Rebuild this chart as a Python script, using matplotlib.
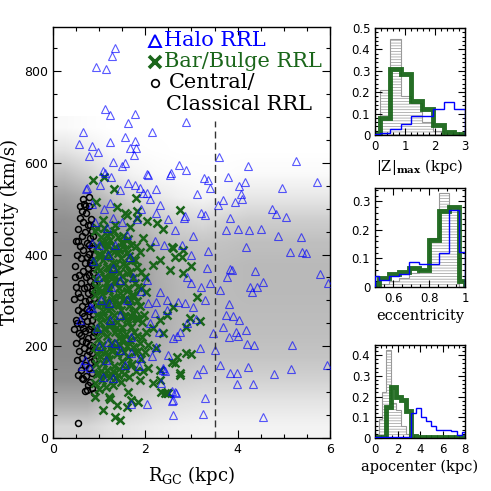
import numpy as np
import matplotlib
matplotlib.use('Agg')
import matplotlib.pyplot as plt
from matplotlib.ticker import MultipleLocator, FuncFormatter

plt.rcParams['font.family'] = 'DejaVu Sans'
plt.rcParams['mathtext.fontset'] = 'dejavuserif'
plt.rcParams['hatch.linewidth'] = 0.5

SERIF = 'DejaVu Serif'
GREEN = '#1a661a'

# ---- main panel: RRL samples (R_GC [kpc], total velocity [km/s]) ----
halo_pts = np.array([
    (1.34, 850), (1.27, 832), (0.93, 808), (1.15, 805), (1.13, 717), (1.24, 704), (1.77, 706),
    (1.62, 686), (2.89, 689), (0.64, 667), (2.15, 667), (1.55, 656), (1.77, 648), (1.23, 646),
    (0.57, 641), (0.84, 637), (1.67, 633), (1.79, 633), (0.98, 624), (0.77, 615), (1.75, 617),
    (3.60, 613), (1.31, 601), (1.56, 600), (1.49, 592), (2.73, 596), (2.88, 585), (4.22, 592),
    (5.27, 603), (1.09, 583), (1.12, 578), (2.03, 575), (2.56, 577), (3.79, 570), (3.27, 567),
    (3.35, 563), (5.71, 558), (4.16, 558), (4.03, 550), (4.96, 545), (3.40, 544), (0.72, 543),
    (1.26, 570), (1.77, 551), (2.24, 542), (1.95, 535), (4.08, 531), (4.10, 521), (3.94, 515),
    (3.69, 519), (3.58, 509), (3.13, 532), (4.74, 499), (5.04, 481), (4.83, 488), (3.83, 479),
    (4.25, 454), (4.51, 455), (4.00, 456), (3.74, 454), (5.37, 438), (4.88, 441), (3.21, 490),
    (3.30, 486), (2.50, 478), (2.84, 479), (3.03, 441), (1.83, 478),
    (5.13, 406), (5.39, 406), (5.49, 404), (4.18, 416), (5.79, 358), (5.96, 337), (4.55, 339),
    (4.41, 329), (4.26, 330), (4.32, 318), (4.37, 365), (3.83, 368), (3.88, 366), (3.76, 352),
    (3.61, 323), (3.82, 291), (3.74, 268), (3.89, 265), (4.03, 258), (4.19, 236), (3.96, 231),
    (3.69, 241), (3.82, 221), (4.00, 223), (4.20, 204), (4.36, 203), (5.18, 203), (3.61, 160),
    (4.23, 154), (5.16, 150), (5.94, 160), (3.83, 141), (3.98, 141), (4.78, 140), (3.99, 117),
    (4.34, 118), (4.55, 46), (3.29, 87), (3.26, 53), (2.60, 50), (2.66, 98), (2.58, 81),
    (2.03, 75), (3.12, 139), (3.26, 151), (3.51, 192), (3.47, 228), (3.18, 196), (2.39, 153),
    (2.42, 146), (2.35, 119), (2.58, 102), (0.62, 156), (3.04, 286), (3.00, 337), (3.33, 370),
    (3.40, 337), (3.35, 408), (2.86, 294), (2.75, 232), (2.69, 223), (2.24, 199), (2.15, 179),
    (1.87, 156), (1.70, 185),
    (0.73, 545), (1.02, 552), (1.23, 512), (1.45, 541), (1.63, 555), (1.88, 545), (2.03, 534),
    (2.06, 574), (2.32, 508), (2.24, 490), (2.53, 574), (2.64, 454), (2.86, 483), (0.84, 425),
    (0.87, 385), (0.98, 352), (1.20, 399), (1.31, 370), (1.67, 395), (1.45, 345), (1.74, 352),
    (2.03, 345), (2.32, 319), (2.46, 301), (2.24, 297), (2.71, 297), (1.05, 301), (0.80, 286),
    (1.60, 443), (1.34, 421), (1.16, 457), (0.84, 283), (1.22, 294), (1.45, 268), (0.58, 257),
    (1.23, 257), (1.20, 210), (1.34, 206), (1.45, 192), (1.70, 221), (1.88, 174), (1.09, 134),
    (1.31, 130), (0.80, 152), (0.69, 170), (2.06, 294), (2.46, 279), (2.21, 272), (2.60, 217),
    (2.39, 148), (2.64, 101), (2.60, 83), (1.70, 75),
    (1.10, 500), (1.30, 480), (1.50, 470), (1.90, 500), (2.10, 520), (2.20, 430), (2.40, 420),
    (2.80, 420), (3.00, 400), (2.90, 350), (3.20, 330), (3.30, 300), (3.10, 260), (2.90, 250),
    (0.95, 240), (1.00, 200), (1.15, 170), (1.55, 160), (1.60, 300), (1.90, 320), (2.10, 250),
    (2.30, 230), (2.50, 180), (1.00, 420), (1.25, 330), (0.90, 470), (0.85, 510),
])

bulge_pts = np.array([
    (0.87, 563), (1.11, 569), (1.32, 543), (1.80, 523), (0.93, 515), (2.75, 496), (1.82, 494),
    (1.60, 486), (1.39, 504), (2.04, 472), (2.26, 468), (2.39, 455), (2.60, 414), (2.82, 410),
    (2.64, 394), (2.32, 388), (2.53, 366), (2.17, 377), (1.95, 436), (1.88, 406), (2.10, 417),
    (1.77, 388), (1.60, 403), (1.49, 425), (1.23, 446), (1.09, 475), (0.95, 457), (1.34, 465),
    (1.67, 461), (1.56, 490), (1.81, 479),
    (0.91, 90), (1.09, 61), (1.22, 90), (1.24, 86), (1.34, 46), (1.45, 39), (1.63, 101),
    (1.70, 83), (1.85, 79), (1.60, 68), (1.38, 72), (1.88, 126), (1.95, 145), (2.06, 152),
    (2.32, 148), (2.35, 101), (2.46, 97), (2.64, 163), (2.68, 177), (2.89, 185), (2.39, 228),
    (2.06, 203), (2.24, 196), (2.32, 257), (2.46, 268), (2.60, 286), (2.17, 239),
    (2.57, 416), (2.81, 359), (3.00, 374), (3.11, 307), (2.89, 243), (2.97, 261), (3.18, 254),
    (2.98, 183), (2.75, 141), (2.76, 137), (2.50, 97), (2.42, 99), (2.17, 119), (2.32, 126),
    (2.57, 166), (2.79, 395),
    (0.92, 120), (0.94, 162), (0.91, 198), (0.93, 238), (0.95, 268), (0.91, 312), (0.94, 347),
    (0.92, 383), (0.95, 418), (0.90, 452),
    (1.00, 106), (0.99, 142), (1.02, 178), (0.98, 216), (1.01, 252), (1.03, 292), (0.99, 328),
    (1.02, 367), (1.00, 402), (1.03, 438),
    (1.07, 126), (1.09, 163), (1.06, 202), (1.10, 238), (1.08, 277), (1.06, 313), (1.10, 352),
    (1.08, 388), (1.07, 427), (1.10, 458),
    (1.15, 112), (1.17, 148), (1.14, 187), (1.18, 222), (1.16, 262), (1.14, 298), (1.18, 337),
    (1.16, 373), (1.15, 412), (1.18, 443),
    (1.24, 132), (1.22, 172), (1.26, 208), (1.23, 247), (1.25, 283), (1.22, 322), (1.26, 358),
    (1.24, 397), (1.23, 432),
    (1.31, 116), (1.33, 157), (1.30, 193), (1.34, 232), (1.32, 268), (1.30, 307), (1.33, 343),
    (1.31, 382), (1.34, 417), (1.32, 452),
    (1.40, 138), (1.38, 182), (1.42, 217), (1.39, 253), (1.41, 292), (1.43, 328), (1.38, 367),
    (1.41, 403), (1.40, 438),
    (1.47, 123), (1.49, 167), (1.46, 203), (1.50, 242), (1.48, 278), (1.46, 317), (1.50, 353),
    (1.47, 392), (1.49, 427),
    (1.56, 152), (1.54, 188), (1.58, 227), (1.55, 263), (1.57, 302), (1.54, 338), (1.58, 377),
    (1.56, 412),
    (1.64, 133), (1.62, 177), (1.66, 213), (1.63, 252), (1.65, 288), (1.62, 327), (1.66, 362),
    (1.64, 397), (1.63, 433),
    (1.72, 162), (1.74, 198), (1.70, 242), (1.73, 273), (1.71, 312), (1.74, 348), (1.72, 387),
    (1.80, 147), (1.78, 187), (1.82, 223), (1.79, 262), (1.81, 298), (1.78, 337), (1.82, 372),
    (1.80, 418),
    (1.90, 172), (1.88, 208), (1.92, 252), (1.89, 288), (1.91, 328), (1.90, 362),
    (2.00, 188), (2.02, 232), (1.98, 268), (2.01, 318), (2.00, 352),
    (0.96, 182), (1.04, 320), (1.12, 395), (1.20, 280), (1.28, 190), (1.36, 300), (1.44, 360),
    (1.52, 215), (1.60, 320), (1.12, 240), (1.28, 410), (1.36, 130), (0.97, 400), (1.52, 440),
    (0.96, 290), (1.04, 145), (1.04, 230), (1.12, 290), (1.12, 140), (1.20, 330), (1.20, 180),
    (1.28, 250), (1.28, 300), (1.36, 380), (1.36, 200), (1.44, 150), (1.44, 290), (1.52, 300),
    (1.52, 380), (1.60, 260), (1.60, 200), (1.68, 300), (1.68, 420), (1.76, 230), (1.76, 310),
    (1.84, 260), (1.84, 190), (0.96, 370), (1.04, 400), (1.20, 420), (1.44, 410), (1.12, 430),
    (0.95, 140), (1.05, 265), (1.13, 350), (1.21, 245), (1.29, 145), (1.37, 240), (1.45, 230),
    (1.53, 265), (1.61, 360), (1.69, 265), (1.77, 280), (1.85, 330), (1.93, 220), (1.05, 190),
    (1.21, 370), (1.37, 340), (1.53, 140), (1.69, 160), (0.93, 330), (1.29, 355),
])

central_pts = np.array([
    (0.79, 526), (0.68, 510), (0.78, 505), (0.62, 495), (0.72, 490), (0.58, 480), (0.82, 478),
    (0.66, 470), (0.75, 465), (0.55, 455), (0.85, 452), (0.70, 448), (0.62, 440), (0.80, 435),
    (0.50, 430), (0.73, 425), (0.58, 418), (0.84, 415), (0.66, 410), (0.77, 402), (0.52, 398),
    (0.60, 392), (0.82, 388), (0.70, 382), (0.48, 375), (0.76, 370), (0.64, 365), (0.86, 360),
    (0.56, 355), (0.72, 350), (0.81, 342), (0.60, 338), (0.50, 330), (0.68, 326), (0.84, 320),
    (0.76, 315), (0.58, 308), (0.45, 302), (0.70, 298), (0.83, 292), (0.63, 288), (0.54, 280),
    (0.78, 276), (0.87, 270), (0.67, 265), (0.50, 258), (0.74, 254), (0.60, 248), (0.82, 244),
    (0.45, 238), (0.70, 234), (0.56, 228), (0.86, 222), (0.76, 218), (0.63, 212), (0.50, 206),
    (0.80, 202), (0.68, 196), (0.57, 190), (0.84, 186), (0.74, 180), (0.62, 175), (0.52, 170),
    (0.82, 165), (0.70, 160), (0.78, 152), (0.60, 148), (0.85, 142), (0.72, 135), (0.66, 128),
    (0.80, 122), (0.75, 115), (0.84, 108), (0.70, 102), (0.88, 98), (0.55, 32),
    (0.80, 465), (0.86, 440), (0.78, 420), (0.88, 398), (0.74, 395), (0.85, 378), (0.79, 356),
    (0.88, 336), (0.74, 330), (0.79, 300), (0.88, 305), (0.73, 282), (0.84, 258), (0.78, 238),
    (0.88, 230), (0.72, 210), (0.87, 198), (0.78, 190), (0.88, 170), (0.60, 225), (0.55, 315),
    (0.62, 272), (0.54, 430), (0.64, 520), (0.70, 505), (0.58, 505), (0.48, 350), (0.52, 250),
    (0.66, 240), (0.80, 382), (0.62, 130), (0.55, 137), (0.73, 105),
])

# background model cloud: relative density on a coarse grid
# rows: V bins 0-50 ... 650-700, columns: R bins 0-0.5 ... 5.5-6
cloud_density = np.array([
    [0.35, 0.35, 0.25, 0.20, 0.15, 0.12, 0.10, 0.10, 0.10, 0.10, 0.10, 0.10],
    [0.70, 0.70, 0.50, 0.40, 0.30, 0.25, 0.22, 0.22, 0.22, 0.22, 0.22, 0.22],
    [0.95, 0.95, 0.85, 0.60, 0.50, 0.42, 0.38, 0.38, 0.38, 0.38, 0.38, 0.38],
    [1.00, 1.00, 0.95, 0.80, 0.62, 0.55, 0.50, 0.50, 0.50, 0.50, 0.50, 0.50],
    [1.00, 1.00, 1.00, 0.88, 0.70, 0.60, 0.55, 0.55, 0.55, 0.55, 0.55, 0.55],
    [1.00, 1.00, 1.00, 0.90, 0.72, 0.62, 0.58, 0.58, 0.58, 0.58, 0.58, 0.58],
    [1.00, 1.00, 1.00, 0.90, 0.72, 0.62, 0.58, 0.58, 0.60, 0.60, 0.60, 0.60],
    [1.00, 1.00, 1.00, 0.88, 0.70, 0.60, 0.56, 0.58, 0.60, 0.60, 0.60, 0.60],
    [1.00, 1.00, 0.95, 0.80, 0.62, 0.52, 0.50, 0.52, 0.55, 0.55, 0.55, 0.55],
    [0.95, 0.90, 0.80, 0.60, 0.45, 0.35, 0.30, 0.38, 0.42, 0.42, 0.42, 0.42],
    [0.80, 0.70, 0.50, 0.30, 0.20, 0.12, 0.08, 0.12, 0.20, 0.20, 0.20, 0.20],
    [0.55, 0.40, 0.20, 0.10, 0.05, 0.03, 0.02, 0.02, 0.04, 0.04, 0.04, 0.04],
    [0.25, 0.15, 0.05, 0.02, 0.01, 0.00, 0.00, 0.00, 0.00, 0.00, 0.00, 0.00],
    [0.05, 0.02, 0.00, 0.00, 0.00, 0.00, 0.00, 0.00, 0.00, 0.00, 0.00, 0.00],
])

# ---- histograms (normalised fractions) ----
zmax_edges = [0, 0.15, 0.5, 0.86, 1.21, 1.57, 1.93, 2.29, 2.64, 3.0]
zmax_central = [0.0, 0.21, 0.45, 0.18, 0.15, 0.06, 0.02, 0.0, 0.0]
zmax_bulge = [0.003, 0.08, 0.31, 0.285, 0.16, 0.12, 0.045, 0.015, 0.003]
zmax_halo = [0.003, 0.01, 0.03, 0.05, 0.09, 0.09, 0.12, 0.155, 0.12]

ecc_edges = [0.5, 0.519, 0.575, 0.631, 0.687, 0.744, 0.80, 0.856, 0.912, 0.968, 1.0]
ecc_central = [0.0, 0.01, 0.02, 0.03, 0.05, 0.06, 0.17, 0.33, 0.27, 0.0]
ecc_bulge = [0.012, 0.03, 0.047, 0.053, 0.068, 0.059, 0.165, 0.265, 0.28, 0.02]
ecc_halo = [0.04, 0.025, 0.04, 0.045, 0.088, 0.082, 0.082, 0.12, 0.27, 0.124]

apo_edges = [0, 0.35, 0.6, 1.0, 1.43, 1.87, 2.3, 2.75, 3.2, 3.65, 4.1, 4.55, 5.0, 5.45,
             5.9, 6.35, 6.8, 7.25, 7.7, 8.0]
apo_central = [0.0, 0.09, 0.22, 0.427, 0.17, 0.136, 0.06, 0.02, 0.0, 0.0,
               0.0, 0.0, 0.0, 0.0, 0.0, 0.0, 0.0, 0.0, 0.0]
apo_bulge = [0.003, 0.003, 0.003, 0.15, 0.245, 0.2, 0.185, 0.128, 0.01, 0.003,
             0.003, 0.003, 0.003, 0.003, 0.003, 0.003, 0.003, 0.003, 0.003]
apo_halo = [0.003, 0.003, 0.003, 0.003, 0.003, 0.003, 0.003, 0.003, 0.12, 0.144,
            0.1, 0.083, 0.058, 0.038, 0.037, 0.037, 0.035, 0.015, 0.03]


def fmt_g(v, pos):
    return '%g' % round(v, 6)


def style_axes(ax, xmaj, xmin, ymaj, ymin, labelsize=8.5):
    ax.xaxis.set_major_locator(MultipleLocator(xmaj))
    ax.xaxis.set_minor_locator(MultipleLocator(xmin))
    ax.yaxis.set_major_locator(MultipleLocator(ymaj))
    ax.yaxis.set_minor_locator(MultipleLocator(ymin))
    ax.xaxis.set_major_formatter(FuncFormatter(fmt_g))
    ax.yaxis.set_major_formatter(FuncFormatter(fmt_g))
    ax.tick_params(which='both', direction='in', top=True, right=True,
                   labelsize=labelsize, width=0.8)
    ax.tick_params(which='major', length=5)
    ax.tick_params(which='minor', length=2.5)
    for s in ax.spines.values():
        s.set_linewidth(1.0)


fig = plt.figure(figsize=(4.91, 4.91), dpi=100)

# main scatter panel
ax = fig.add_axes([0.108, 0.108, 0.564, 0.837])
rgba = np.zeros(cloud_density.shape + (4,))
rgba[..., :3] = 0.52
rgba[..., 3] = cloud_density * 0.95
ax.imshow(rgba, extent=[0, 6, 0, 700], origin='lower', aspect='auto',
          interpolation='bilinear', zorder=0)

ax.plot(central_pts[:, 0], central_pts[:, 1], 'o', mfc='none', mec='black',
        ms=4.3, mew=1.1, zorder=2)
ax.plot(bulge_pts[:, 0], bulge_pts[:, 1], 'x', color=GREEN, ms=6, mew=1.8,
        zorder=3)
ax.plot(halo_pts[:, 0], halo_pts[:, 1], '^', mfc='none', mec='blue', ms=5.5,
        mew=0.8, alpha=0.65, zorder=4)
ax.plot([3.5, 3.5], [0, 690], ls=(0, (5, 3)), color='#333333', lw=1.0, zorder=5)

ax.set_xlim(0, 6)
ax.set_ylim(0, 896)
style_axes(ax, 2, 0.5, 200, 50, labelsize=9)
ax.tick_params(which='major', length=6)
ax.tick_params(which='minor', length=3)
ax.set_xlabel(r'R$_{\mathrm{GC}}$ (kpc)', family=SERIF, fontsize=13, labelpad=6)
ax.set_ylabel('Total Velocity (km/s)', family=SERIF, fontsize=13, labelpad=4)

# legend drawn as text rows
ax.plot(2.2, 866, '^', mfc='none', mec='blue', ms=9, mew=1.4, clip_on=False, zorder=6)
ax.text(2.4, 866, 'Halo RRL', color='blue', family=SERIF, fontsize=15, va='center')
ax.plot(2.2, 820, 'x', color=GREEN, ms=8, mew=2.6, clip_on=False, zorder=6)
ax.text(2.4, 820, 'Bar/Bulge RRL', color=GREEN, family=SERIF, fontsize=15, va='center')
ax.plot(2.2, 774, 'o', mfc='none', mec='black', ms=5.5, mew=1.2, clip_on=False, zorder=6)
ax.text(2.5, 774, 'Central/', color='black', family=SERIF, fontsize=15, va='center')
ax.text(2.44, 728, 'Classical RRL', color='black', family=SERIF, fontsize=15, va='center')


def draw_hist(axh, edges, central, bulge, halo):
    axh.stairs(central, edges, fill=True, facecolor='white', edgecolor='#999999',
               hatch='------', lw=0.8, zorder=1)
    axh.stairs(bulge, edges, color=GREEN, lw=3.5, alpha=0.95, zorder=2)
    axh.stairs(halo, edges, color='blue', lw=1.0, zorder=3)


ax1 = fig.add_axes([0.764, 0.725, 0.183, 0.218])
draw_hist(ax1, zmax_edges, zmax_central, zmax_bulge, zmax_halo)
ax1.set_xlim(0, 3)
ax1.set_ylim(0, 0.5)
style_axes(ax1, 1, 0.2, 0.1, 0.02)
ax1.set_xlabel(r'|Z|$_{\mathbf{max}}$ (kpc)', family=SERIF, fontsize=10.5, labelpad=3)

ax2 = fig.add_axes([0.764, 0.4155, 0.183, 0.2016])
draw_hist(ax2, ecc_edges, ecc_central, ecc_bulge, ecc_halo)
ax2.set_xlim(0.5, 1.0)
ax2.set_ylim(0, 0.347)
style_axes(ax2, 0.2, 0.05, 0.1, 0.02)
ax2.set_xlabel('eccentricity', family=SERIF, fontsize=10.5, labelpad=3)

ax3 = fig.add_axes([0.764, 0.108, 0.183, 0.189])
draw_hist(ax3, apo_edges, apo_central, apo_bulge, apo_halo)
ax3.set_xlim(0, 8)
ax3.set_ylim(0, 0.448)
style_axes(ax3, 2, 0.5, 0.1, 0.02)
ax3.set_xlabel('apocenter (kpc)', family=SERIF, fontsize=10.5, labelpad=3)

fig.savefig('out.png', dpi=100)
